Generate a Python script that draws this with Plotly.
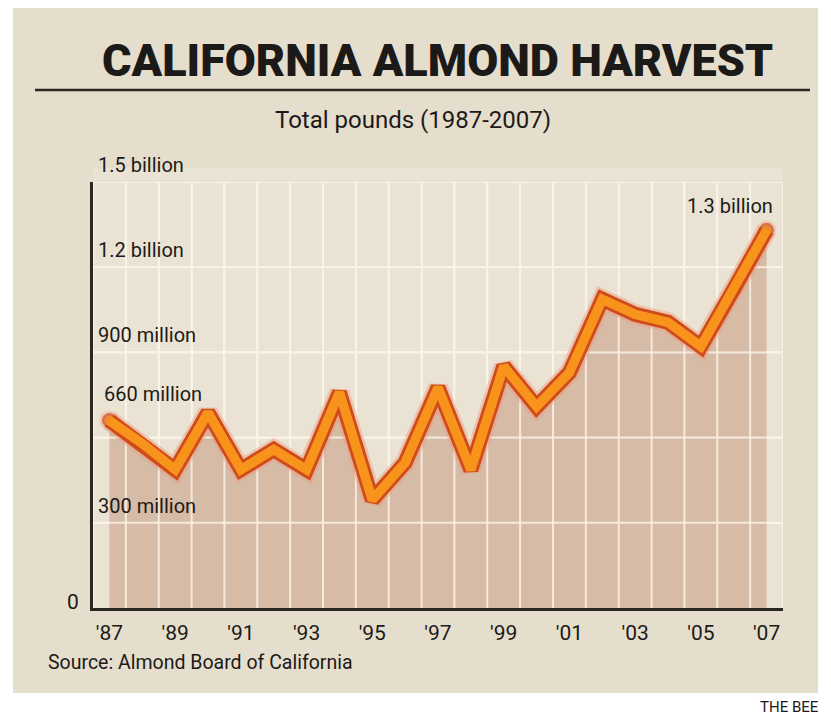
import plotly.graph_objects as go

years = list(range(1987, 2008))
pounds_m = [660, 579, 487, 688, 487, 558, 487, 759, 381, 512, 776, 487,
            851, 709, 829, 1087, 1034, 1006, 921, 1122, 1330]
tick_years = list(range(1987, 2008, 2))
tick_labels = ["'87", "'89", "'91", "'93", "'95", "'97", "'99", "'01", "'03", "'05", "'07"]
y_grid = [300, 600, 900, 1200, 1500]
y_label_vals = [300, 900, 1200, 1500]
y_label_text = ["300 million", "900 million", "1.2 billion", "1.5 billion"]

FONT = "Roboto, Liberation Sans, sans-serif"
INK = "#1c1a18"
X0, X1 = years[0] - 0.5, years[-1] + 0.5
Y0, Y1 = 0, 1500

# gridlines drawn as a trace so they show on top of the area fill but under the line
gx, gy = [], []
for k in range(len(years) + 1):
    gx += [X0 + k, X0 + k, None]
    gy += [Y0, Y1, None]
for v in y_grid:
    gx += [X0, X1, None]
    gy += [v, v, None]

end_sizes = [1 if i in (0, len(years) - 1) else 0 for i in range(len(years))]

fig = go.Figure()
fig.add_trace(go.Scatter(x=years, y=pounds_m, mode="lines", line=dict(width=0),
                         fill="tozeroy", fillcolor="rgba(200,160,135,0.6)",
                         hoverinfo="skip", showlegend=False))
fig.add_trace(go.Scatter(x=gx, y=gy, mode="lines", line=dict(color="rgba(250,243,231,0.8)", width=2),
                         hoverinfo="skip", showlegend=False, connectgaps=False))
fig.add_trace(go.Scatter(x=years, y=pounds_m, mode="lines+markers",
                         line=dict(color="rgba(240,150,120,0.45)", width=20),
                         marker=dict(size=[s * 20 for s in end_sizes], color="rgba(240,150,120,0.45)", line=dict(width=0)),
                         hoverinfo="skip", showlegend=False))
fig.add_trace(go.Scatter(x=years, y=pounds_m, mode="lines+markers",
                         line=dict(color="#cf4b1b", width=15),
                         marker=dict(size=[s * 15 for s in end_sizes], color="#cf4b1b", line=dict(width=0)),
                         hoverinfo="skip", showlegend=False))
fig.add_trace(go.Scatter(x=years, y=pounds_m, mode="lines+markers",
                         line=dict(color="#f8941c", width=9.5),
                         marker=dict(size=[s * 9.5 for s in end_sizes], color="#f8941c", line=dict(width=0)),
                         showlegend=False))

# page has an 8px body margin; work in page pixels and convert
OFF = 8
FW, FH = 831 - 2 * OFF, 723 - 2 * OFF
L, R, T, B = 93, 783, 182, 608
W, H = R - L, B - T
def px(x):
    return (x - L) / W
def py(y):
    return (B - y) / H

shapes = [
    dict(type="rect", xref="paper", yref="paper", x0=px(13), x1=px(818), y0=py(8), y1=py(693),
         fillcolor="#e6decd", line=dict(width=0), layer="below"),
    dict(type="rect", xref="paper", yref="paper", x0=0, x1=1, y0=0, y1=py(168),
         fillcolor="#eae3d4", line=dict(width=0), layer="below"),
    dict(type="line", xref="paper", yref="paper", x0=px(35), x1=px(810), y0=py(90), y1=py(90),
         line=dict(color="#2a2622", width=2.5)),
]

annotations = [
    dict(text="CALIFORNIA ALMOND HARVEST", xref="paper", yref="paper",
         x=px(437), y=py(60), showarrow=False, xanchor="center", yanchor="middle",
         font=dict(family=FONT, size=45, color=INK, weight=900)),
    dict(text="Total pounds (1987-2007)", xref="paper", yref="paper",
         x=px(413), y=py(120), showarrow=False, xanchor="center", yanchor="middle",
         font=dict(family=FONT, size=24, color=INK)),
    dict(text="0", xref="paper", yref="y", x=px(73), y=0, yshift=6, showarrow=False,
         xanchor="center", yanchor="middle", font=dict(family=FONT, size=21, color=INK)),
    dict(text=f"{pounds_m[0]} million", xref="x", yref="y", x=years[0], y=pounds_m[0],
         xshift=-7, yshift=27, showarrow=False, xanchor="left", yanchor="middle",
         font=dict(family=FONT, size=20, color=INK)),
    dict(text="1.3 billion", xref="x", yref="y", x=years[-1], y=pounds_m[-1],
         xshift=8, yshift=24, showarrow=False, xanchor="right", yanchor="middle",
         font=dict(family=FONT, size=20, color=INK)),
    dict(text="Source: Almond Board of California", xref="paper", yref="paper",
         x=px(46), y=py(662), showarrow=False, xanchor="left", yanchor="middle",
         font=dict(family=FONT, size=19.5, color=INK)),
    dict(text="THE BEE", xref="paper", yref="paper",
         x=px(821), y=py(707), showarrow=False, xanchor="right", yanchor="middle",
         font=dict(family=FONT, size=15, color=INK)),
]
for v, t in zip(y_label_vals, y_label_text):
    annotations.append(dict(text=t, xref="paper", yref="y", x=px(96), y=v, yshift=3,
                            showarrow=False, xanchor="left", yanchor="bottom",
                            font=dict(family=FONT, size=20, color=INK)))

fig.update_layout(
    width=FW, height=FH,
    margin=dict(l=L - OFF, r=(OFF + FW) - R, t=T - OFF, b=(OFF + FH) - B, pad=0),
    paper_bgcolor="white", plot_bgcolor="#e9e2d2",
    shapes=shapes, annotations=annotations,
    xaxis=dict(range=[X0, X1], tickmode="array", tickvals=tick_years, ticktext=tick_labels,
               showgrid=False, zeroline=False, showline=True, linecolor="#2a2622", linewidth=2.5,
               ticks="", ticklabelstandoff=4, tickfont=dict(family=FONT, size=21, color=INK),
               minor=dict(tick0=X0, dtick=1, showgrid=True, gridcolor="#f7f2e6", gridwidth=2)),
    yaxis=dict(range=[Y0, Y1], tickmode="array", tickvals=y_grid, showticklabels=False,
               showgrid=True, gridcolor="#f7f2e6", gridwidth=2,
               zeroline=False, showline=True, linecolor="#2a2622", linewidth=2.5, ticks=""),
)

fig.write_html("out.html")
